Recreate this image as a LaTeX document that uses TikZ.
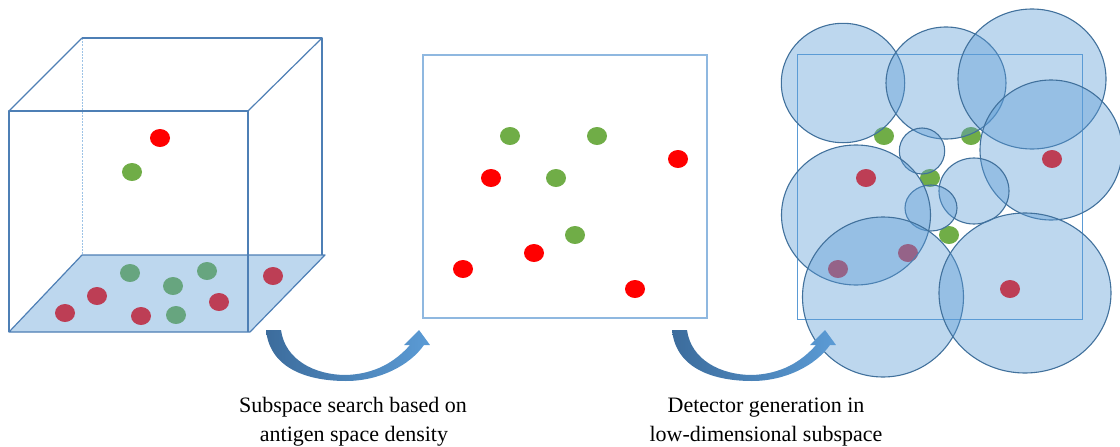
\documentclass[tikz,border=0pt]{standalone}
\usepackage{fontspec}
\setmainfont{Liberation Serif}
\usetikzlibrary{shapes.geometric}

\definecolor{cubeedge}{HTML}{4E7FB5}
\definecolor{floorfill}{HTML}{5B9BD5}
\definecolor{hidden}{HTML}{9DC3E6}
\definecolor{planeedge}{HTML}{8FB8E0}
\definecolor{rectedge}{HTML}{5B9BD5}
\definecolor{detfill}{HTML}{5B9BD5}
\definecolor{detedge}{HTML}{41719C}
\definecolor{selfdot}{HTML}{70AD47}
\definecolor{nonselfdot}{HTML}{FF0000}
\definecolor{arrowdark}{HTML}{3C6C9C}
\definecolor{arrowlight}{HTML}{5B9BD5}

\tikzset{
  cubeline/.style={draw=cubeedge, line width=1.2pt, line join=round},
  dot/.style={ellipse, draw=none, inner sep=0pt, minimum width=20pt, minimum height=18pt},
  selfpt/.style={dot, fill=selfdot},
  nonselfpt/.style={dot, fill=nonselfdot},
  detector/.style={fill=detfill, fill opacity=0.4, draw=detedge, draw opacity=1, line width=1.1pt},
  caption/.style={font=\fontsize{22}{29}\selectfont, anchor=base, inner sep=0pt},
  curvedarrow/.pic={
    \shade[left color=arrowdark, right color=arrowlight]
      (0,0) .. controls (4,40) and (44,51) .. (80,51)
            .. controls (114,51) and (144,35) .. (158,15)
      -- (164,15) -- (153,0) -- (138,15) -- (144,15)
            .. controls (129,32) and (109,44) .. (80,45)
            .. controls (49,45) and (19,30) .. (15,0) -- cycle;
  }
}

\begin{document}
\begin{tikzpicture}[x=1pt, y=-1pt]
\useasboundingbox (0,0) rectangle (1120,447);
\clip (0,0) rectangle (1120,447);

% ---------- full antigen space: the cube ----------
% hidden back vertical edge
\draw[hidden, line width=1pt, dash pattern=on 2pt off 1.2pt] (82,38) -- (82,255);
% back right vertical edge and top face
\draw[cubeline] (82,38) -- (322,38) -- (322,255);
\draw[cubeline] (9,111) -- (82,38);
\draw[cubeline] (248,111) -- (322,38);

% floating antigens
\node[nonselfpt] (c1) at (160,138) {};
\node[selfpt]    (c2) at (132,172) {};

% antigens projected onto the floor
\foreach \x/\y [count=\i] in {130/273, 173/286, 207/271, 176/315}
  \node[selfpt] (cg\i) at (\x,\y) {};
\foreach \x/\y [count=\i] in {65/313, 97/296, 141/316, 219/302, 273/276}
  \node[nonselfpt] (cr\i) at (\x,\y) {};

% translucent floor plane
\fill[floorfill, fill opacity=0.4] (9,332) -- (250,332) -- (325,255) -- (82,255) -- cycle;
\draw[cubeline] (9,332) -- (250,332) -- (325,255) -- (82,255) -- cycle;

% front face
\draw[cubeline] (9,332) -- (9,111) -- (248,111) -- (248,332);

% ---------- selected subspace ----------
\draw[planeedge, line width=1.3pt] (423,55) rectangle (707,318);
\foreach \x/\y [count=\i] in {510/136, 597/136, 556/178, 575/235}
  \node[selfpt] (sg\i) at (\x,\y) {};
\foreach \x/\y [count=\i] in {678/159, 491/178, 534/253, 463/269, 635/289}
  \node[nonselfpt] (sr\i) at (\x,\y) {};

% ---------- detectors in the subspace ----------
\draw[rectedge, line width=1pt] (797,54) rectangle (1082,319);
\foreach \x/\y [count=\i] in {884/136, 971/136, 930/178, 949/235}
  \node[selfpt] (dg\i) at (\x,\y) {};
\foreach \x/\y [count=\i] in {1052/159, 866/178, 908/253, 838/269, 1010/289}
  \node[nonselfpt] (dr\i) at (\x,\y) {};

\draw[detector] (843,83)  ellipse [x radius=61.7, y radius=59.7];
\draw[detector] (946,83)  ellipse [x radius=60,   y radius=56];
\draw[detector] (1032,79) ellipse [x radius=74,   y radius=70];
\draw[detector] (1051,150) ellipse [x radius=71,  y radius=70];
\draw[detector] (922,151) ellipse [x radius=22.7, y radius=23];
\draw[detector] (974,191) ellipse [x radius=35,   y radius=33];
\draw[detector] (931,208) ellipse [x radius=26,   y radius=23];
\draw[detector] (856,215) ellipse [x radius=74.5, y radius=70];
\draw[detector] (883,297) ellipse [x radius=80.5, y radius=80];
\draw[detector] (1025,293) ellipse [x radius=86,  y radius=80];

% ---------- transition arrows ----------
\pic at (266,330) {curvedarrow};
\pic at (672,330) {curvedarrow};

% ---------- captions ----------
\node[caption] (t1a) at (353,412) {Subspace search based on};
\node[caption] (t1b) at (354,441) {antigen space density};
\node[caption] (t2a) at (766,412) {Detector generation in};
\node[caption] (t2b) at (766,441) {low-dimensional subspace};

\end{tikzpicture}
\end{document}
